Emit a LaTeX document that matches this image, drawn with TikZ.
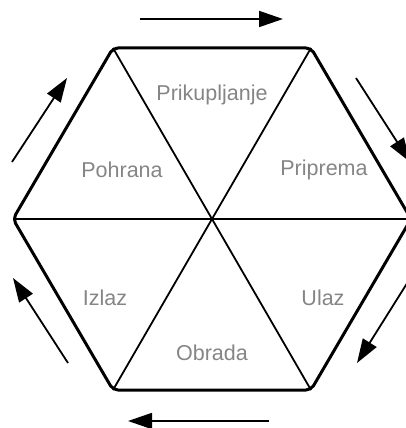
\documentclass[tikz,border=0pt]{standalone}
\usepackage{fontspec}
\setmainfont{Liberation Sans}
\usetikzlibrary{arrows.meta}
\definecolor{labelgray}{HTML}{858585}
\tikzset{
  outer/.style={line width=3pt, rounded corners=5pt, line join=round},
  inner/.style={line width=1.8pt},
  flow/.style={line width=1.8pt, -{Triangle[length=24pt,width=16pt]}},
  lbl/.style={text=labelgray, font=\fontsize{21.5}{25}\selectfont, inner sep=0pt}
}
\begin{document}
\begin{tikzpicture}[x=1pt,y=-1pt]
\useasboundingbox (0,0) rectangle (406,428);
\clip (0,0) rectangle (406,428);
% hexagon vertices
\coordinate (C) at (212,219);
\coordinate (TL) at (113,48);
\coordinate (TR) at (311,48);
\coordinate (R) at (411,219);
\coordinate (BR) at (311,390);
\coordinate (BL) at (113,390);
\coordinate (L) at (13,219);
% inner spokes
\draw[inner] (L) -- (R);
\draw[inner] (TL) -- (BR);
\draw[inner] (TR) -- (BL);
% outline
\draw[outer] (TL) -- (TR) -- (R) -- (BR) -- (BL) -- (L) -- cycle;
% labels
\node[lbl] (prik) at (212,95) {Prikupljanje};
\node[lbl] (pohr) at (122,170) {Pohrana};
\node[lbl] (prip) at (324,170) {Priprema};
\node[lbl] (izl) at (105,298) {Izlaz};
\node[lbl] (ul) at (323,298) {Ulaz};
\node[lbl] (obr) at (212,353) {Obrada};
% arrows
\coordinate (a1s) at (140,19);   \coordinate (a1e) at (283,19);
\coordinate (a2s) at (356,78);   \coordinate (a2e) at (410,162);
\coordinate (a3s) at (411,277);  \coordinate (a3e) at (357,363);
\coordinate (a4s) at (269,421);  \coordinate (a4e) at (128,421);
\coordinate (a5s) at (68,363);   \coordinate (a5e) at (13,278);
\coordinate (a6s) at (12,162);   \coordinate (a6e) at (67,78);
\draw[flow] (a1s) -- (a1e);
\draw[flow] (a2s) -- (a2e);
\draw[flow] (a3s) -- (a3e);
\draw[flow] (a4s) -- (a4e);
\draw[flow] (a5s) -- (a5e);
\draw[flow] (a6s) -- (a6e);
\end{tikzpicture}
\end{document}
